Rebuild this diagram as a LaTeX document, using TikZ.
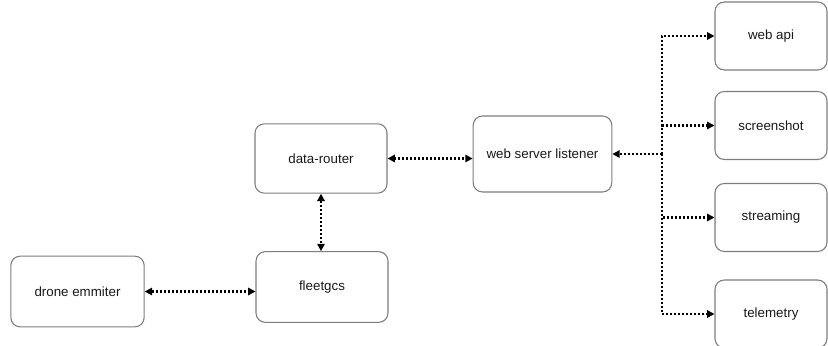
\documentclass[tikz,border=0pt]{standalone}
\usepackage{fontspec}
\setmainfont{Liberation Sans}
\usepackage{tikz}
\usetikzlibrary{arrows.meta}
\definecolor{boxgray}{RGB}{125,125,125}
\definecolor{txtcol}{RGB}{25,25,25}

\begin{document}
\begin{tikzpicture}[x=0.75pt, y=-0.75pt,
  box/.style={draw=boxgray, line width=0.8pt, rounded corners=7pt, fill=white,
    text=txtcol, font=\fontsize{10}{12}\selectfont, align=center},
  link/.style={line width=1.6pt, dash pattern=on 1.5pt off 1.5pt,
    arrows={-Triangle[length=5.5pt,width=5.5pt]}},
  blink/.style={link, arrows={Triangle[length=5.5pt,width=5.5pt]-Triangle[length=5.5pt,width=5.5pt]}}]
  \useasboundingbox (0,0) rectangle (828,346);
  % main chain
  \node[box, minimum width=100pt, minimum height=53pt] (drone) at (77.5,291.5) {drone emmiter};
  \node[box, minimum width=99pt, minimum height=53pt] (fleet) at (322,287) {fleetgcs};
  \node[box, minimum width=99pt, minimum height=52pt] (router) at (321,158.5) {data-router};
  \node[box, minimum width=104pt, minimum height=57pt] (wsl) at (542.5,154) {web server listener};
  \draw[blink] (drone.east) -- (drone.east -| fleet.west);
  \draw[blink] (router.south) -- (router.south |- fleet.north);
  \draw[blink] (router.east) -- (router.east -| wsl.west);
  % services
  \coordinate (hub) at (662,154);
  \draw[link] (hub) -- (wsl.east);
  \foreach \n/\t/\y in {api/web api/36, shot/screenshot/125.5, stream/streaming/217.5, tele/telemetry/314}{
    \node[box, minimum width=84pt, minimum height=51pt] (\n) at (771,\y) {\t};
    \draw[link] (hub) |- (\n.west);
  }
\end{tikzpicture}
\end{document}
